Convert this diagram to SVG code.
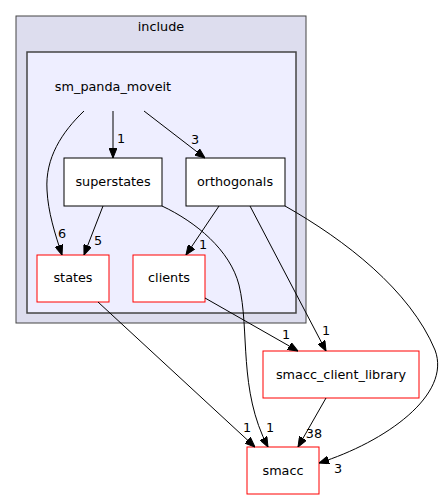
<svg xmlns="http://www.w3.org/2000/svg" width="445" height="500" viewBox="0 0 445 500">
<defs>
<marker id="ah" markerWidth="10" markerHeight="8" refX="10" refY="4" orient="auto" markerUnits="userSpaceOnUse">
<path d="M0,0 L10,4 L0,8 Z" fill="#000" stroke="#000"/>
</marker>
<style>
text{font-family:"DejaVu Sans","Liberation Sans",sans-serif;font-size:12.8px;fill:#000}
.c{text-anchor:middle}
.e{fill:none;stroke:#000;stroke-width:1;marker-end:url(#ah)}
.nb{fill:#fff;stroke:#000;stroke-width:1}
.nr{fill:#fff;stroke:#f00;stroke-width:1}
</style>
</defs>
<rect width="445" height="500" fill="#fff"/>
<g id="cluster_include">
<rect x="16" y="16" width="290" height="307" fill="#ddddee" stroke="#444" stroke-width="1"/>
<text class="c" x="161" y="31">include</text>
</g>
<g id="cluster_sm_panda_moveit">
<rect x="27" y="52" width="269" height="261" fill="#eeeeff" stroke="#444" stroke-width="1.5"/>
<text class="c" x="113" y="91">sm_panda_moveit</text>
</g>
<g id="node_superstates">
<rect class="nb" x="64" y="158" width="98" height="48"/>
<text class="c" x="113" y="186">superstates</text>
</g>
<g id="node_orthogonals">
<rect class="nb" x="186" y="158" width="99" height="48"/>
<text class="c" x="235" y="186">orthogonals</text>
</g>
<g id="node_states">
<rect class="nr" x="37" y="255" width="72" height="47"/>
<text class="c" x="73" y="282">states</text>
</g>
<g id="node_clients">
<rect class="nr" x="133" y="255" width="72" height="47"/>
<text class="c" x="169" y="282">clients</text>
</g>
<g id="node_smacc_client_library">
<rect class="nr" x="263" y="351" width="156" height="47"/>
<text class="c" x="341" y="379">smacc_client_library</text>
</g>
<g id="node_smacc">
<rect class="nr" x="247" y="447" width="72" height="47"/>
<text class="c" x="283" y="475">smacc</text>
</g>
<g id="edges">
<path class="e" d="M84,111 C62,132 45,158 47,190 C48,212 55,234 62,255"/>
<text class="c" x="62" y="238">6</text>
<path class="e" d="M113,111 L113,158"/>
<text class="c" x="121" y="143">1</text>
<path class="e" d="M144,111 L205,158"/>
<text class="c" x="195" y="144">3</text>
<path class="e" d="M103,206 L84,255"/>
<text class="c" x="98" y="245">5</text>
<path class="e" d="M162,206 C196,222 230,250 239,285 C250,330 238,390 268,447"/>
<text class="c" x="270" y="432">1</text>
<path class="e" d="M219,206 L186,255"/>
<text class="c" x="203" y="249">1</text>
<path class="e" d="M250,206 L326,351"/>
<text class="c" x="326" y="335">1</text>
<path class="e" d="M285,206 C345,240 410,290 435,350 C452,395 385,442 319,463"/>
<text class="c" x="338" y="473">3</text>
<path class="e" d="M205,298 L298,351"/>
<text class="c" x="286" y="339">1</text>
<path class="e" d="M98,302 L255,447"/>
<text class="c" x="247" y="432">1</text>
<path class="e" d="M326,398 L298,447"/>
<text class="c" x="314" y="438">38</text>
</g>
</svg>
